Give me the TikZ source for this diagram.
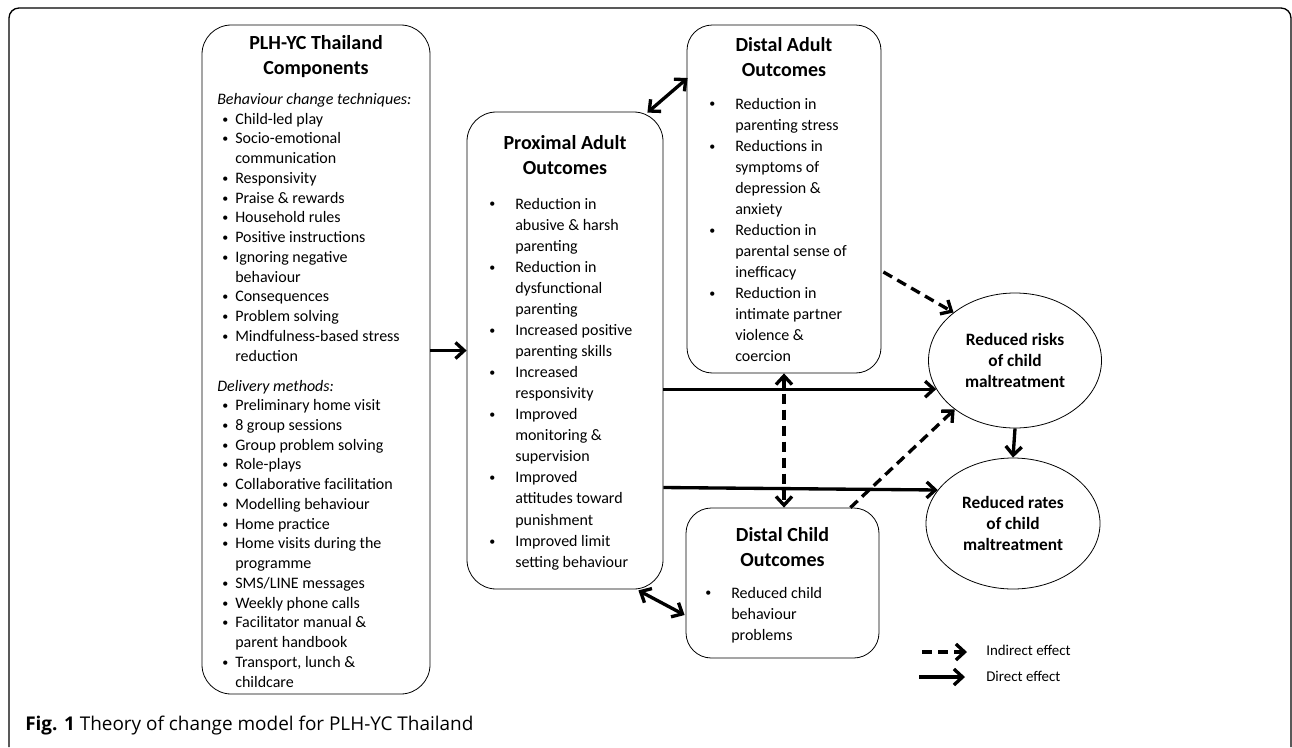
\documentclass[tikz,border=0pt]{standalone}
\usepackage{fontspec}
\setmainfont{Carlito}
\newfontfamily\capfont{Open Sans}
\usetikzlibrary{arrows.meta,shapes.geometric,positioning,calc}

\newcommand{\itm}{\raisebox{0.8pt}{\fontsize{9}{9}\selectfont\textbullet} &}
\newcommand{\more}{&}

\tikzset{
  box/.style={draw, line width=0.6pt, rounded corners=22pt, inner sep=0pt},
  oval/.style={draw, ellipse, line width=0.6pt, inner sep=0pt, align=center,
    font=\bfseries\fontsize{13}{15.4}\selectfont},
  title/.style={align=center, inner sep=0pt, font=\bfseries\fontsize{15}{18.75}\selectfont},
  list/.style={anchor=base west, inner sep=0pt, font=\fontsize{12}{15.8}\selectfont},
  legtext/.style={anchor=west, inner sep=0pt, font=\fontsize{11.2}{13}\selectfont},
  >={Straight Barb[length=6.5pt,width=12pt]},
  direct/.style={line width=2.5pt, ->},
  indirect/.style={direct, dash pattern=on 7.5pt off 4.5pt}
}

\begin{document}
\begin{tikzpicture}[x=0.75pt,y=-0.75pt]
\useasboundingbox (0,0) rectangle (1292,747);
\draw[line width=1pt, rounded corners=7.5pt] (9,747) -- (9,8) -- (1291,8) -- (1291,747);

% components
\path (316,359.5) node(comp)[box, minimum width=171pt, minimum height=501.75pt] {};
\path (316,57) node(comptitle)[title] {PLH-YC Thailand\\Components};
\path (217,104.5) node(complist)[list, font=\fontsize{12}{14.8}\selectfont] {%
\begin{tabular}[t]{@{\hspace{3.75pt}}p{9.75pt}@{}l@{}}
\multicolumn{2}{@{}l@{}}{\itshape Behaviour change techniques:}\\
\itm Child-led play\\
\itm Socio-emotional\\
\more communication\\
\itm Responsivity\\
\itm Praise \& rewards\\
\itm Household rules\\
\itm Positive instructions\\
\itm Ignoring negative\\
\more behaviour\\
\itm Consequences\\
\itm Problem solving\\
\itm Mindfulness-based stress\\
\more reduction\\[7.7pt]
\multicolumn{2}{@{}l@{}}{\itshape Delivery methods:}\\
\itm Preliminary home visit\\
\itm 8 group sessions\\
\itm Group problem solving\\
\itm Role-plays\\
\itm Collaborative facilitation\\
\itm Modelling behaviour\\
\itm Home practice\\
\itm Home visits during the\\
\more programme\\
\itm SMS/LINE messages\\
\itm Weekly phone calls\\
\itm Facilitator manual \&\\
\more parent handbook\\
\itm Transport, lunch \&\\
\more childcare
\end{tabular}};

% proximal adult outcomes
\path (565,350.5) node(prox)[box, minimum width=147pt, minimum height=357.75pt] {};
\path (565,155) node(proxtitle)[title] {Proximal Adult\\Outcomes};
\path (489,209) node(proxlist)[list] {%
\begin{tabular}[t]{@{}p{19.5pt}@{}l@{}}
\itm Reduction in\\
\more abusive \& harsh\\
\more parenting\\
\itm Reduction in\\
\more dysfunctional\\
\more parenting\\
\itm Increased positive\\
\more parenting skills\\
\itm Increased\\
\more responsivity\\
\itm Improved\\
\more monitoring \&\\
\more supervision\\
\itm Improved\\
\more attitudes toward\\
\more punishment\\
\itm Improved limit\\
\more setting behaviour
\end{tabular}};

% distal adult outcomes
\path (784,199) node(dadult)[box, rounded corners=19pt, minimum width=145.5pt, minimum height=261pt] {};
\path (784,57) node(dadulttitle)[title] {Distal Adult\\Outcomes};
\path (709,109) node(dadultlist)[list] {%
\begin{tabular}[t]{@{}p{19.5pt}@{}l@{}}
\itm Reduction in\\
\more parenting stress\\
\itm Reductions in\\
\more symptoms of\\
\more depression \&\\
\more anxiety\\
\itm Reduction in\\
\more parental sense of\\
\more inefficacy\\
\itm Reduction in\\
\more intimate partner\\
\more violence \&\\
\more coercion
\end{tabular}};

% distal child outcomes
\path (782.5,583) node(dchild)[box, rounded corners=19pt, minimum width=144.75pt, minimum height=112.5pt] {};
\path (782.5,547.5) node(dchildtitle)[title] {Distal Child\\Outcomes};
\path (705,598) node(dchildlist)[list] {%
\begin{tabular}[t]{@{}p{19.5pt}@{}l@{}}
\itm Reduced child\\
\more behaviour\\
\more problems
\end{tabular}};

% outcomes for the child
\path (1015,360.5) node(risks)[oval, minimum width=129.75pt, minimum height=101.25pt] {Reduced risks\\of child\\maltreatment};
\path (1013,523.5) node(rates)[oval, minimum width=130.5pt, minimum height=98.25pt] {Reduced rates\\of child\\maltreatment};

% connectors
\draw[direct] (comp.east |- prox.west) -- (prox.west);
\draw[direct, <->] ($(prox.north east)+(-16,1)$) -- ($(dadult.west)+(1,-121)$);
\draw[direct, <->] ($(prox.south east)+(-25,1)$) -- ($(dchild.west)+(-1,32)$);
\draw[direct] (prox.east |- risks.200) -- (risks.200);
\draw[direct] ($(prox.east)+(0,137)$) -- (rates.156);
\draw[indirect, <->] (dadult.south) -- (dadult.south |- dchild.north);
\draw[indirect] ($(dadult.east)+(2,73)$) -- (risks.142);
\draw[indirect] ($(dchild.north east)+(-29,0)$) -- (risks.219);
\draw[direct] (risks.south) -- (rates.north);

% legend
\coordinate (ind1) at (922,652);
\coordinate (ind2) at (967,652);
\coordinate (dir1) at (919,677);
\coordinate (dir2) at (965,677);
\draw[indirect] (ind1) -- (ind2);
\draw[direct] (dir1) -- (dir2);
\path (986,650) node(indtext)[legtext] {Indirect effect};
\path (986,676) node(dirtext)[legtext] {Direct effect};

% caption
\path (25,730) node(caption)[anchor=base west, inner sep=0pt, font=\capfont\fontsize{14.2}{16}\selectfont] {\textbf{Fig. 1} Theory of change model for PLH-YC Thailand};
\end{tikzpicture}
\end{document}
